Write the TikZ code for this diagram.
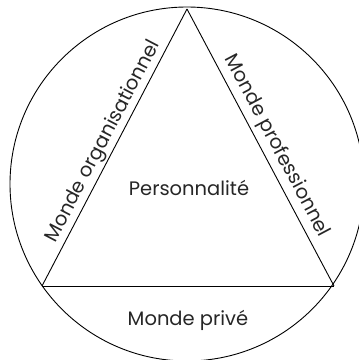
\documentclass[tikz,border=0pt]{standalone}
\usepackage{fontspec}
\setmainfont{Poppins}
\usetikzlibrary{positioning}

\begin{document}
\begin{tikzpicture}[x=1pt, y=1pt, line width=0.9pt]
  \useasboundingbox (0,0) rectangle (359,360);
  % Outer circle
  \coordinate (ctr) at (187,176);
  \draw (ctr) circle (177);

  % Triangle corners
  \coordinate (apex) at (187,351);
  \coordinate (left) at (42,74);
  \coordinate (right) at (334,74);

  % Triangle sides with labels
  \draw (left) -- node[sloped, above, inner sep=2pt, font=\fontsize{19.5}{22}\selectfont, text=black!85] (orga) {Monde organisationnel} (apex);
  \draw (apex) -- node[sloped, above, inner sep=4.5pt, pos=0.52, font=\fontsize{19.5}{22}\selectfont, text=black!85] (pro) {Monde professionnel} (right);
  \draw (left) -- (right);

  % Inner and bottom labels
  \node[font=\fontsize{19.5}{22}\selectfont, text=black!85] (perso) at (189,172) {Personnalité};
  \node[font=\fontsize{19.5}{22}\selectfont, text=black!85] (prive) at (188,40) {Monde privé};
\end{tikzpicture}
\end{document}
